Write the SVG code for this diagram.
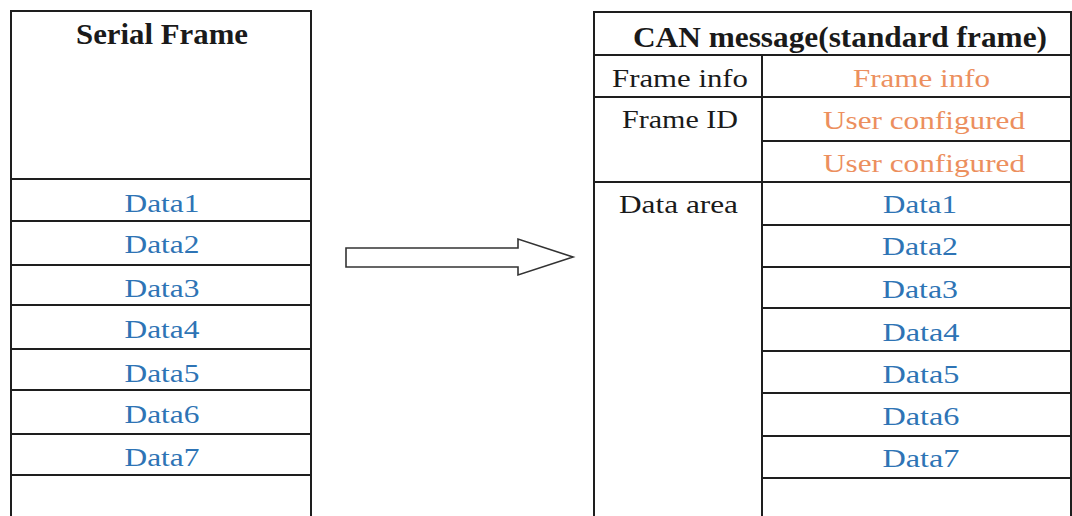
<svg xmlns="http://www.w3.org/2000/svg" width="1072" height="516" viewBox="0 0 1072 516">
  <style>
    .grid { stroke: #1e1e1e; stroke-width: 2; fill: none; }
    .head { font-family: "Liberation Serif", "Times New Roman", serif; font-weight: bold; font-size: 30px; fill: #1a1a1a; text-anchor: middle; }
    .lbl { font-family: "Liberation Serif", "Times New Roman", serif; font-size: 26px; fill: #1a1a1a; text-anchor: middle; }
    .data { font-family: "Liberation Serif", "Times New Roman", serif; font-size: 25px; fill: #2e74b5; text-anchor: middle; }
    .cfg { font-family: "Liberation Serif", "Times New Roman", serif; font-size: 26px; fill: #ec8f5e; text-anchor: middle; }
    .arrow { fill: #ffffff; stroke: #333333; stroke-width: 1.6; stroke-linejoin: miter; }
  </style>
  <rect width="1072" height="516" fill="#ffffff"/>

  <!-- Serial frame table -->
  <g id="serial-frame">
    <path class="grid" d="M11 520 V11 H311 V520"/>
    <path class="grid" d="M11 179 H311 M11 221 H311 M11 265 H311 M11 305 H311 M11 349 H311 M11 390 H311 M11 434 H311 M11 475 H311"/>
    <text class="head" x="162" y="44" textLength="172" lengthAdjust="spacingAndGlyphs">Serial Frame</text>
    <text class="data" x="162" y="211.5" textLength="75" lengthAdjust="spacingAndGlyphs">Data1</text>
    <text class="data" x="162" y="252.5" textLength="75" lengthAdjust="spacingAndGlyphs">Data2</text>
    <text class="data" x="162" y="296.5" textLength="75" lengthAdjust="spacingAndGlyphs">Data3</text>
    <text class="data" x="162" y="338" textLength="75" lengthAdjust="spacingAndGlyphs">Data4</text>
    <text class="data" x="162" y="381.5" textLength="75" lengthAdjust="spacingAndGlyphs">Data5</text>
    <text class="data" x="162" y="423" textLength="75" lengthAdjust="spacingAndGlyphs">Data6</text>
    <text class="data" x="162" y="465.5" textLength="75" lengthAdjust="spacingAndGlyphs">Data7</text>
  </g>

  <!-- Conversion arrow -->
  <g id="connectors">
    <polygon class="arrow" points="346,248 518,248 518,239 573,257 518,275 518,267 346,267"/>
  </g>

  <!-- CAN message table -->
  <g id="can-message">
    <path class="grid" d="M594 520 V12 H1071 V520"/>
    <path class="grid" d="M594 55 H1071 M762 55 V520 M594 97 H1071 M594 182 H1071"/>
    <path class="grid" d="M762 141 H1071 M762 225 H1071 M762 267 H1071 M762 308 H1071 M762 351 H1071 M762 393 H1071 M762 436 H1071 M762 478 H1071"/>
    <text class="head" x="840" y="46.5" textLength="414" lengthAdjust="spacingAndGlyphs">CAN message(standard frame)</text>
    <text class="lbl" x="680" y="87" textLength="136" lengthAdjust="spacingAndGlyphs">Frame info</text>
    <text class="lbl" x="680" y="128" textLength="116" lengthAdjust="spacingAndGlyphs">Frame ID</text>
    <text class="lbl" x="678.5" y="213" textLength="119" lengthAdjust="spacingAndGlyphs">Data area</text>
    <text class="cfg" x="921.5" y="87" textLength="137" lengthAdjust="spacingAndGlyphs">Frame info</text>
    <text class="cfg" x="924" y="128.5" textLength="202" lengthAdjust="spacingAndGlyphs">User configured</text>
    <text class="cfg" x="924" y="172" textLength="202" lengthAdjust="spacingAndGlyphs">User configured</text>
    <text class="data" x="920" y="213" textLength="74" lengthAdjust="spacingAndGlyphs">Data1</text>
    <text class="data" x="920" y="255" textLength="76" lengthAdjust="spacingAndGlyphs">Data2</text>
    <text class="data" x="920" y="297.5" textLength="76" lengthAdjust="spacingAndGlyphs">Data3</text>
    <text class="data" x="921" y="340.5" textLength="77" lengthAdjust="spacingAndGlyphs">Data4</text>
    <text class="data" x="921" y="382.5" textLength="77" lengthAdjust="spacingAndGlyphs">Data5</text>
    <text class="data" x="921" y="425" textLength="77" lengthAdjust="spacingAndGlyphs">Data6</text>
    <text class="data" x="921" y="466.5" textLength="77" lengthAdjust="spacingAndGlyphs">Data7</text>
  </g>
</svg>
